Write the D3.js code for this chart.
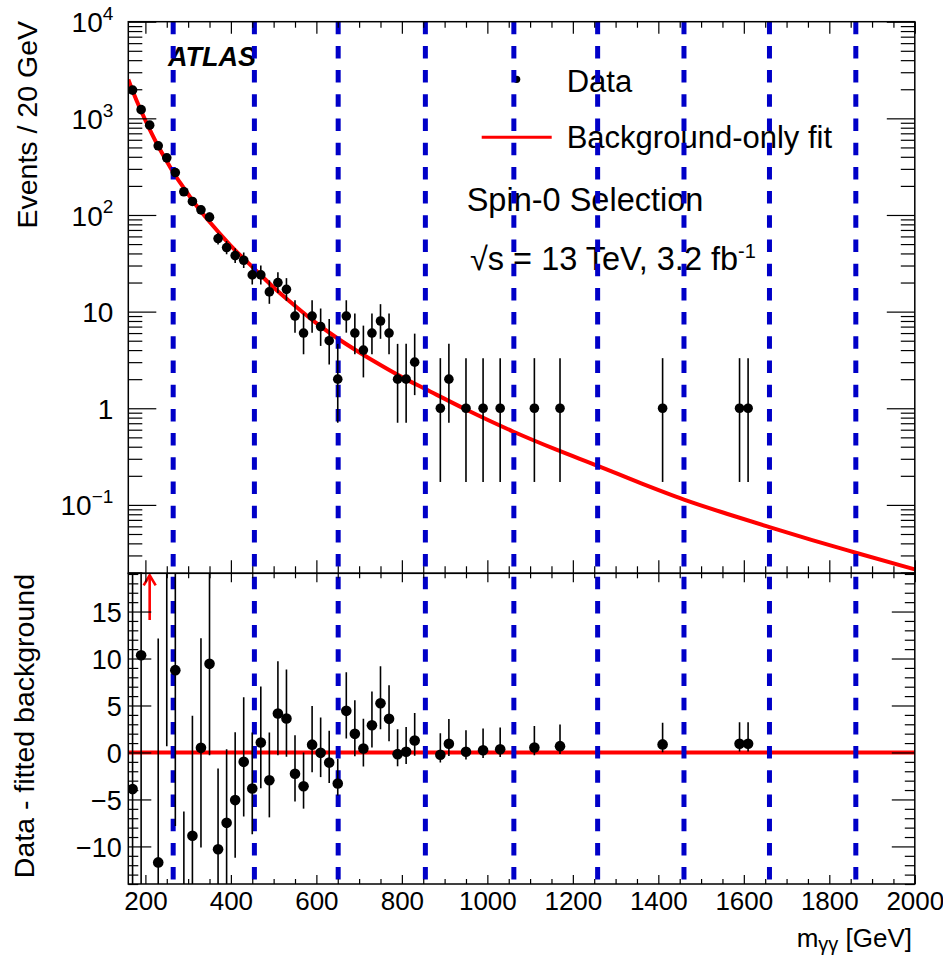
<!DOCTYPE html>
<html>
<head>
<meta charset="utf-8">
<script src="https://cdn.jsdelivr.net/npm/d3@7"></script>
<style>
  body { margin: 0; background: #fff; }
  svg { font-family: "Liberation Sans", Arial, Helvetica, sans-serif; }
</style>
</head>
<body>
<svg id="chart" width="943" height="955"></svg>
<script>
// centres (GeV) of the non-empty 20 GeV bins
const dataMass = [170, 190, 210, 230, 250, 270, 290, 310, 330, 350, 370, 390, 410, 430, 450, 470, 490, 510, 530,
  550, 570, 590, 610, 630, 650, 670, 690, 710, 730, 750, 770, 790, 810, 830, 890, 910, 950, 990, 1030, 1110, 1170,
  1410, 1590, 1610];
// events in each of those bins
const dataCount = [1960, 1230, 850, 520, 390, 275, 174, 138, 113, 95, 57, 46, 38, 34, 24, 24, 16, 20, 17,
  9, 6, 9, 7, 5, 2, 9, 6, 4, 6, 8, 6, 2, 2, 3, 1, 2, 1, 1, 1, 1, 1,
  1, 1, 1];
// data - fitted background, same bins
const residual = [-3.9, 10.35, 68, -11.7, 20.4, 8.76, -20.5, -8.87, 0.49, 9.43, -10.3, -7.49, -5.07, -1.0, -3.83, 1.06, -2.95, 4.15, 3.62,
  -2.27, -3.6, 0.83, -0.04, -1.08, -3.3, 4.43, 1.98, 0.42, 2.9, 5.24, 3.58, -0.18, 0.07, 1.27, -0.25, 0.92, 0.07, 0.24, 0.35, 0.53, 0.67,
  0.86, 0.92, 0.92];

const fitMass = [160, 170, 190, 210, 230, 250, 265, 290, 310, 350, 400, 455, 500, 550, 600, 650, 700, 750, 800, 855,
  950, 1060, 1160, 1260, 1360, 1460, 1560, 1660, 1760, 1862, 2000];
const fitValue = [2520, 1930, 1190, 770, 515, 360, 277, 190, 142, 85, 48, 27.7, 17.8, 11.5, 7.6, 5.27, 3.8, 2.8, 2.1, 1.58,
  0.97, 0.575, 0.375, 0.252, 0.167, 0.1135, 0.081, 0.0589, 0.0432, 0.032, 0.0215];

// masses marked by the blue dashed lines
const markMass = [265, 455, 651, 855, 1062, 1258, 1460, 1660, 1862];

// tick labels
const xTickValues = [200, 400, 600, 800, 1000, 1200, 1400, 1600, 1800, 2000];
const yLogTicks = [0.1, 1, 10, 100, 1000, 10000];
const yResTicks = [-10, -5, 0, 5, 10, 15];

const X0 = 128.3, X1 = 914.8;
const Y0 = 21.7, YM = 573.3, Y1 = 884;

const svg = d3.select('#chart');

const x = d3.scaleLinear().domain([160, 2000]).range([X0, X1]);
const yLog = d3.scaleLog().domain([0.0196, 1e4]).range([YM, Y0]);
const yRes = d3.scaleLinear().domain([-14, 19.07]).range([Y1, YM]);

// Garwood (68%) interval for a Poisson count
function poisCdf(n, mu) {
  if (n < 0) return 0;
  let lm = Math.log(mu), lf = 0, mx = -Infinity, terms = [];
  for (let k = 0; k <= n; k++) {
    if (k) lf += Math.log(k);
    let t = -mu + k * lm - lf;
    terms.push(t);
    if (t > mx) mx = t;
  }
  let s = 0;
  for (const t of terms) s += Math.exp(t - mx);
  return Math.min(1, Math.exp(mx) * s);
}
function solve(f, target, lo, hi) {
  for (let i = 0; i < 60; i++) {
    let mid = (lo + hi) / 2;
    if (f(mid) > target) lo = mid; else hi = mid;
  }
  return (lo + hi) / 2;
}
const alpha = 0.5 * (1 - 0.6827);
function garwood(n) {
  let hi = solve(mu => poisCdf(n, mu), alpha, n + 1e-9, n + 10 * Math.sqrt(n) + 10);
  let lo = n === 0 ? 0 : solve(mu => poisCdf(n - 1, mu), 1 - alpha, 1e-9, n);
  return [lo, hi];
}

const points = dataMass.map((m, i) => {
  let n = dataCount[i];
  let [lo, hi] = garwood(n);
  return { m: m, n: n, lo: lo, hi: hi, r: residual[i] };
});

// clip paths
const defs = svg.append('defs');
defs.append('clipPath').attr('id', 'clipTop')
  .append('rect').attr('x', X0).attr('y', Y0).attr('width', X1 - X0).attr('height', YM - Y0);
defs.append('clipPath').attr('id', 'clipBot')
  .append('rect').attr('x', X0).attr('y', YM).attr('width', X1 - X0).attr('height', Y1 - YM);

function isDecade(v) {
  let l = Math.log10(v);
  return Math.abs(l - Math.round(l)) < 1e-6;
}
const yLogMinor = yLog.ticks().filter(v => !isDecade(v));
const xMinor = x.ticks(40).filter(v => !xTickValues.includes(v));
const yResMinor = d3.range(-14, 20).filter(v => !yResTicks.includes(v) && v <= 19);

function drawAxis(axis, tx, ty) {
  let g = svg.append('g').attr('transform', `translate(${tx},${ty})`).call(axis);
  g.attr('font-size', null).attr('font-family', null);
  g.select('.domain').remove();
  g.selectAll('.tick line').attr('stroke', '#000').attr('stroke-width', 1.2);
  return g;
}

/* fit curves */
const fitLine = d3.line()
  .x((d, i) => x(fitMass[i]))
  .y(d => yLog(d))
  .curve(d3.curveMonotoneX);

svg.append('path')
  .attr('clip-path', 'url(#clipTop)')
  .attr('d', fitLine(fitValue))
  .attr('fill', 'none')
  .attr('stroke', '#ff0000')
  .attr('stroke-width', 4);

svg.append('line')
  .attr('x1', X0).attr('x2', X1)
  .attr('y1', yRes(0)).attr('y2', yRes(0))
  .attr('stroke', '#ff0000')
  .attr('stroke-width', 4);

/* texts */
svg.append('text')
  .attr('x', 168).attr('y', 66)
  .attr('font-size', 27).attr('font-weight', 'bold').attr('font-style', 'italic')
  .text('ATLAS');

svg.append('circle').attr('cx', 516.7).attr('cy', 79.3).attr('r', 3.6).attr('fill', '#000');
svg.append('text').attr('x', 566.7).attr('y', 92).attr('font-size', 31).text('Data');
svg.append('line')
  .attr('x1', 481.7).attr('x2', 551.7).attr('y1', 137.3).attr('y2', 137.3)
  .attr('stroke', '#ff0000').attr('stroke-width', 3);
svg.append('text').attr('x', 566.7).attr('y', 148).attr('font-size', 31).text('Background-only fit');
svg.append('text').attr('x', 466.7).attr('y', 211).attr('font-size', 32.5).text('Spin-0 Selection');
let lumi = svg.append('text').attr('x', 470).attr('y', 270).attr('font-size', 32.5);
lumi.append('tspan').text('√s = 13 TeV, 3.2 fb');
lumi.append('tspan').attr('font-size', 20).attr('dy', -12).text('-1');

/* axis titles */
svg.append('text')
  .attr('transform', 'translate(36.5,21) rotate(-90)')
  .attr('text-anchor', 'end')
  .attr('font-size', 28.5)
  .text('Events / 20 GeV');
svg.append('text')
  .attr('transform', 'translate(33.5,574) rotate(-90)')
  .attr('text-anchor', 'end')
  .attr('font-size', 28.5)
  .text('Data - fitted background');
let xt = svg.append('text')
  .attr('x', 912).attr('y', 947)
  .attr('text-anchor', 'end')
  .attr('font-size', 26);
xt.append('tspan').text('m');
xt.append('tspan').attr('font-size', 20).attr('dy', 4).text('γγ');
xt.append('tspan').attr('dy', -4).text(' [GeV]');

/* dashed marker lines */
const dash = svg.append('g')
  .attr('stroke', '#0000c8')
  .attr('stroke-width', 5)
  .attr('stroke-dasharray', '12.5,11.7');
dash.selectAll('line.top').data(markMass).enter().append('line')
  .attr('class', 'top')
  .attr('x1', d => x(d)).attr('x2', d => x(d))
  .attr('y1', Y0).attr('y2', YM);
dash.selectAll('line.bot').data(markMass).enter().append('line')
  .attr('class', 'bot')
  .attr('stroke-dashoffset', -3.4)
  .attr('x1', d => x(d)).attr('x2', d => x(d))
  .attr('y1', YM).attr('y2', Y1);

/* data, upper panel */
const upperPts = svg.append('g').attr('clip-path', 'url(#clipTop)');
upperPts.selectAll('line').data(points).enter().append('line')
  .attr('x1', d => x(d.m)).attr('x2', d => x(d.m))
  .attr('y1', d => yLog(Math.max(d.lo, 1e-3))).attr('y2', d => yLog(d.hi))
  .attr('stroke', '#000').attr('stroke-width', 1.6);
upperPts.selectAll('circle').data(points).enter().append('circle')
  .attr('cx', d => x(d.m)).attr('cy', d => yLog(d.n))
  .attr('r', 4.8).attr('fill', '#000');

/* data, lower panel */
const [rLo, rHi] = yRes.domain();
const lowerPts = svg.append('g').attr('clip-path', 'url(#clipBot)');
lowerPts.selectAll('line').data(points).enter().append('line')
  .attr('x1', d => x(d.m)).attr('x2', d => x(d.m))
  .attr('y1', d => yRes(d.r - (d.n - d.lo))).attr('y2', d => yRes(d.r + (d.hi - d.n)))
  .attr('stroke', '#000').attr('stroke-width', 1.6);
lowerPts.selectAll('circle').data(points.filter(d => d.r >= rLo && d.r <= rHi)).enter().append('circle')
  .attr('cx', d => x(d.m)).attr('cy', d => yRes(d.r))
  .attr('r', 5.3).attr('fill', '#000');

// arrows for points whose whole error bar is above the range
const arrows = svg.append('g')
  .attr('stroke', '#ff0000').attr('stroke-width', 2.6).attr('fill', 'none');
points.filter(d => d.r - (d.n - d.lo) > rHi).forEach(d => {
  let cx = x(d.m);
  arrows.append('line').attr('x1', cx).attr('x2', cx).attr('y1', yRes(14.1)).attr('y2', YM + 2);
  arrows.append('path').attr('d', `M${cx - 6},${YM + 12}L${cx},${YM + 2}L${cx + 6},${YM + 12}`);
});

/* axes: upper panel */
let gl = drawAxis(d3.axisLeft(yLog).tickValues(yLogTicks).tickSizeInner(-28).tickSizeOuter(0).tickPadding(15), X0, 0);
gl.selectAll('.tick text')
  .attr('font-size', 28)
  .attr('dy', '0.36em')
  .each(function (d) {
    let e = Math.round(Math.log10(d));
    let t = d3.select(this).text(null);
    if (e === 0) { t.text('1'); return; }
    t.append('tspan').text('10');
    if (e !== 1) {
      t.append('tspan').attr('font-size', 19).attr('dy', '-0.65em').text(e < 0 ? '\u2212' + (-e) : e);
    }
  });
drawAxis(d3.axisLeft(yLog).tickValues(yLogMinor).tickSizeInner(-14).tickSizeOuter(0).tickFormat(''), X0, 0);
drawAxis(d3.axisRight(yLog).tickValues(yLogTicks).tickSizeInner(-28).tickSizeOuter(0).tickFormat(''), X1, 0);
drawAxis(d3.axisRight(yLog).tickValues(yLogMinor).tickSizeInner(-14).tickSizeOuter(0).tickFormat(''), X1, 0);
drawAxis(d3.axisTop(x).tickValues(xTickValues).tickSizeInner(-12).tickSizeOuter(0).tickFormat(''), 0, Y0);
drawAxis(d3.axisTop(x).tickValues(xMinor).tickSizeInner(-6).tickSizeOuter(0).tickFormat(''), 0, Y0);
drawAxis(d3.axisBottom(x).tickValues(xTickValues).tickSizeInner(-13).tickSizeOuter(0).tickFormat(''), 0, YM);
drawAxis(d3.axisBottom(x).tickValues(xMinor).tickSizeInner(-7).tickSizeOuter(0).tickFormat(''), 0, YM);

/* axes: lower panel */
drawAxis(d3.axisTop(x).tickValues(xTickValues).tickSizeInner(-9).tickSizeOuter(0).tickFormat(''), 0, YM);
drawAxis(d3.axisTop(x).tickValues(xMinor).tickSizeInner(-5).tickSizeOuter(0).tickFormat(''), 0, YM);
let gb = drawAxis(d3.axisBottom(x).tickValues(xTickValues).tickSizeInner(-9).tickSizeOuter(0).tickPadding(7.5).tickFormat(d3.format('d')), 0, Y1);
gb.selectAll('.tick text').attr('font-size', 26);
drawAxis(d3.axisBottom(x).tickValues(xMinor).tickSizeInner(-5).tickSizeOuter(0).tickFormat(''), 0, Y1);
let gr = drawAxis(d3.axisLeft(yRes).tickValues(yResTicks).tickSizeInner(-23).tickSizeOuter(0).tickPadding(6.6)
  .tickFormat(d => d < 0 ? '\u2212' + (-d) : d), X0, 0);
gr.selectAll('.tick text').attr('font-size', 27).attr('dy', '0.36em');
drawAxis(d3.axisLeft(yRes).tickValues(yResMinor).tickSizeInner(-10).tickSizeOuter(0).tickFormat(''), X0, 0);
drawAxis(d3.axisRight(yRes).tickValues(yResTicks).tickSizeInner(-23).tickSizeOuter(0).tickFormat(''), X1, 0);
drawAxis(d3.axisRight(yRes).tickValues(yResMinor).tickSizeInner(-10).tickSizeOuter(0).tickFormat(''), X1, 0);

/* frames */
svg.append('rect')
  .attr('x', X0).attr('y', Y0).attr('width', X1 - X0).attr('height', YM - Y0)
  .attr('fill', 'none').attr('stroke', '#000').attr('stroke-width', 1.5);
svg.append('rect')
  .attr('x', X0).attr('y', YM).attr('width', X1 - X0).attr('height', Y1 - YM)
  .attr('fill', 'none').attr('stroke', '#000').attr('stroke-width', 1.5);
</script>
</body>
</html>
